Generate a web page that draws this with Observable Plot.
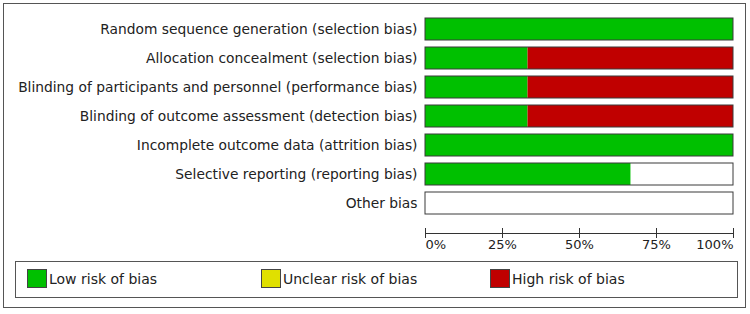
<!DOCTYPE html>
<html>
<head>
<meta charset="utf-8">
<script src="https://cdn.jsdelivr.net/npm/d3@7"></script>
<script src="https://cdn.jsdelivr.net/npm/@observablehq/plot@0.6"></script>
<style>
  body { margin: 0; background: #fff; font-family: "DejaVu Sans", sans-serif; }
  #wrap { position: relative; width: 750px; height: 314px; overflow: hidden; }
  #chart { position: absolute; left: 0; top: 0; }
  #outer { position: absolute; left: 3px; top: 3px; width: 743px; height: 305px; border: 1px solid #555; box-sizing: border-box; pointer-events: none; }
  #legend { position: absolute; left: 15px; top: 261px; width: 723px; height: 37px; border: 1px solid #555; box-sizing: border-box; }
  .item { position: absolute; top: 7px; display: flex; align-items: center; height: 19px; font-size: 14px; color: #222; }
  .swatch { width: 20px; height: 19px; border: 1px solid #444; box-sizing: border-box; margin-right: 2px; }
</style>
</head>
<body>
<div id="wrap">
  <div id="chart"></div>
  <div id="legend"></div>
  <div id="outer"></div>
</div>
<script>
// Risk-of-bias domains, top to bottom
const domains = [
  "Random sequence generation (selection bias)",
  "Allocation concealment (selection bias)",
  "Blinding of participants and personnel (performance bias)",
  "Blinding of outcome assessment (detection bias)",
  "Incomplete outcome data (attrition bias)",
  "Selective reporting (reporting bias)",
  "Other bias"
];

// Percentage of studies per judgement, in domain order
const lowRisk     = [100, 33.3, 33.3, 33.3, 100, 66.7, 0];
const unclearRisk = [0, 0, 0, 0, 0, 0, 0];
const highRisk    = [0, 66.7, 66.7, 66.7, 0, 0, 0];

const judgements = ["Low", "Unclear", "High"];
const judgementColors = ["#00c000", "#e0e000", "#c00000"];
const legendLabels = ["Low risk of bias", "Unclear risk of bias", "High risk of bias"];

const fullScale = 100;
const pctTicks = [0, 25, 50, 75, 100];

// Long-format table for stacking
const series = [lowRisk, unclearRisk, highRisk];
const table = [];
domains.forEach((domain, i) => {
  judgements.forEach((j, k) => {
    table.push({domain, judgement: j, value: series[k][i]});
  });
});

const font = "'DejaVu Sans', sans-serif";
const tickText = {frameAnchor: "bottom", dy: 20, text: d => d + "%", fontSize: 13, fill: "#222"};

const chart = Plot.plot({
  width: 750,
  height: 255,
  marginLeft: 425,
  marginRight: 17,
  marginTop: 0,
  marginBottom: 27,
  style: {fontFamily: font, color: "#222", background: "transparent", overflow: "visible"},
  x: {domain: [0, fullScale], axis: null},
  y: {domain: domains, range: [12.1, 220.7], paddingInner: 0.245, paddingOuter: 0.1225, axis: null},
  color: {domain: judgements, range: judgementColors},
  marks: [
    Plot.barX(table, Plot.stackX({x: "value", y: "domain", fill: "judgement", order: judgements})),
    Plot.barX(domains, {x: () => fullScale, y: d => d, fill: "none", stroke: "#3a3a3a", strokeWidth: 1}),
    Plot.axisY({tickSize: 0, tickPadding: 8, fontSize: 13.8, fill: "#222", label: null}),
    Plot.axisX({ticks: pctTicks, tickSize: 10, tickFormat: () => "", stroke: "#333", label: null}),
    Plot.frame({anchor: "bottom", dy: 5, stroke: "#333"}),
    Plot.text(pctTicks.filter(t => t === 0), {x: d => d, textAnchor: "start", ...tickText}),
    Plot.text(pctTicks.filter(t => t > 0 && t < fullScale), {x: d => d, textAnchor: "middle", ...tickText}),
    Plot.text(pctTicks.filter(t => t === fullScale), {x: d => d, textAnchor: "end", ...tickText})
  ]
});
document.getElementById("chart").appendChild(chart);

// Legend box below the chart
const legendLeft = [11, 245, 474];
const legend = document.getElementById("legend");
judgements.forEach((j, k) => {
  const item = document.createElement("div");
  item.className = "item";
  item.style.left = legendLeft[k] + "px";
  const sw = document.createElement("div");
  sw.className = "swatch";
  sw.style.background = judgementColors[k];
  const label = document.createElement("span");
  label.textContent = legendLabels[k];
  item.appendChild(sw);
  item.appendChild(label);
  legend.appendChild(item);
});
</script>
</body>
</html>
